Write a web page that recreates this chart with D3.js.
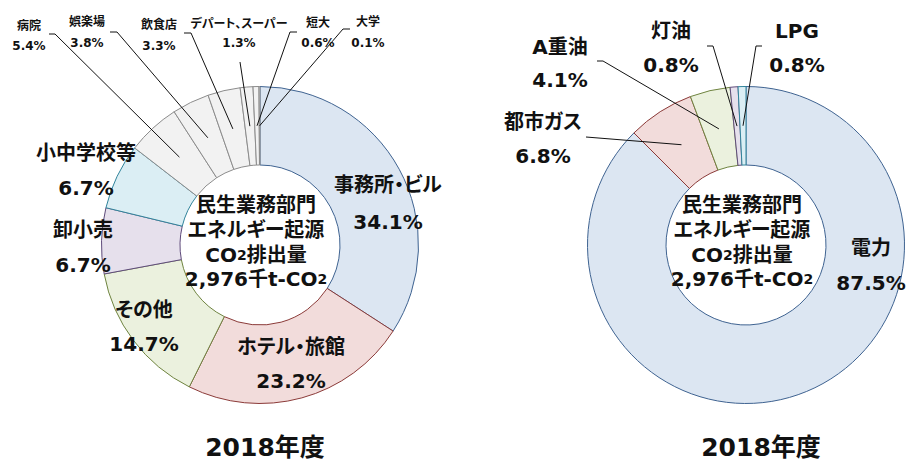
<!DOCTYPE html>
<html><head><meta charset="utf-8">
<script src="https://cdn.jsdelivr.net/npm/d3@7"></script>
<style>
body{margin:0;background:#fff;}
svg{display:block;}
text{font-family:"DejaVu Sans","Noto Sans CJK JP",sans-serif;font-weight:bold;fill:#111;font-feature-settings:"palt";}
</style></head>
<body>
<svg id="c" width="911" height="462"></svg>
<script>
// ---- data ----
const leftCategories = ["事務所・ビル","ホテル・旅館","その他","卸小売","小中学校等","病院","娯楽場","飲食店","デパート、スーパー","短大","大学"];
const leftValues = [34.1,23.2,14.7,6.7,6.7,5.4,3.8,3.3,1.3,0.6,0.1];
const rightCategories = ["電力","都市ガス","A重油","灯油","LPG"];
const rightValues = [87.5,6.8,4.1,0.8,0.8];
const centerLines = ["民生業務部門","エネルギー起源","CO2排出量","2,976千t-CO2"];
const titleText = "2018年度";

// ---- styles ----
const fills = {blue:"#dce6f2",pink:"#f2dcdb",green:"#ebf1de",lav:"#e6e0ec",cyan:"#dbeef4",gray:"#f2f2f2"};
const strokes = {blue:"#3f6391",pink:"#8b3a38",green:"#6f8440",lav:"#5f4b7b",cyan:"#31849b",gray:"#8c8c8c"};
const leftColorKeys = ["blue","pink","green","lav","cyan","gray","gray","gray","gray","gray","gray"];
const rightColorKeys = ["blue","pink","green","lav","cyan"];

const svg = d3.select("#c");
const R = 158.5, r0 = 80;

const BIG = 20, SMALL = 12;
const leftLayout = [
  {x:388,y1:185,y2:222,fs:BIG},
  {x:291,y1:347,y2:381,fs:BIG},
  {x:144,y1:310,y2:344,fs:BIG},
  {x:83,y1:230,y2:265,fs:BIG},
  {x:86,y1:153,y2:188,fs:BIG},
  {x:29,y1:26,y2:46,fs:SMALL,lead:[[49,34],[55,34]]},
  {x:87,y1:22,y2:43,fs:SMALL,lead:[[110,32],[117,32]]},
  {x:159,y1:25,y2:46,fs:SMALL,lead:[[184,33],[191,33]]},
  {x:239,y1:24,y2:43,fs:SMALL,lead:[[240,62]]},
  {x:318,y1:23,y2:43,fs:SMALL,lead:[[297,32],[290,32]]},
  {x:368,y1:22,y2:43,fs:SMALL,lead:[[350,29],[343,29]]}
];
const rightLayout = [
  {x:871,y1:248,y2:283,fs:BIG},
  {x:543,y1:122,y2:156,fs:BIG,lead:[[586,137]]},
  {x:560,y1:47,y2:80,fs:BIG,lead:[[597,61],[603,61]]},
  {x:671,y1:31,y2:65,fs:BIG,lead:[[707,46],[713,46]]},
  {x:797,y1:31,y2:65,fs:BIG,lead:[[762,46],[756,46]]}
];

function donut(cx, cy, cats, vals, colorKeys, layout, textDx, titleX){
  const g = svg.append("g").attr("transform",`translate(${cx},${cy})`);
  const pie = d3.pie().sort(null).value(d=>d)(vals);
  const arc = d3.arc().innerRadius(r0).outerRadius(R);
  const midArc = d3.arc().innerRadius((R+r0)/2).outerRadius((R+r0)/2);
  g.selectAll("path.s").data(pie).join("path")
    .attr("class","s").attr("d",arc)
    .attr("fill",(d,i)=>fills[colorKeys[i]])
    .attr("stroke",(d,i)=>strokes[colorKeys[i]])
    .attr("stroke-width",1);
  pie.forEach((d,i)=>{
    const L = layout[i];
    if(!L.lead) return;
    const c = midArc.centroid(d);
    const pts = L.lead.map(p=>[p[0],p[1]]).concat([[cx+c[0],cy+c[1]]]);
    svg.append("path").attr("d",d3.line()(pts)).attr("fill","none").attr("stroke","#111").attr("stroke-width",1);
  });
  pie.forEach((d,i)=>{
    const L = layout[i];
    svg.append("text").attr("x",L.x).attr("y",L.y1).attr("text-anchor","middle")
      .attr("dominant-baseline","central").attr("font-size",L.fs).text(cats[i]);
    svg.append("text").attr("x",L.x).attr("y",L.y2).attr("text-anchor","middle")
      .attr("dominant-baseline","central").attr("font-size",L.fs).text(d3.format(".1f")(vals[i])+"%");
  });
  const ys=[205,230,255,279];
  centerLines.forEach((t,k)=>{
    const tx = svg.append("text").attr("x",cx+textDx).attr("y",ys[k]).attr("text-anchor","middle")
      .attr("dominant-baseline","central").attr("font-size",20);
    const parts = t.split("CO2");
    parts.forEach((p,j)=>{
      if(p) tx.append("tspan").text(p);
      if(j<parts.length-1){
        tx.append("tspan").text("CO");
        tx.append("tspan").attr("font-size",14).text("2");
      }
    });
  });
  svg.append("text").attr("x",titleX).attr("y",447).attr("text-anchor","middle")
    .attr("dominant-baseline","central").attr("font-size",25).text(titleText);
}

donut(260,245,leftCategories,leftValues,leftColorKeys,leftLayout,-4,265);
donut(746,245,rightCategories,rightValues,rightColorKeys,rightLayout,-4,761);
</script>
</body></html>
